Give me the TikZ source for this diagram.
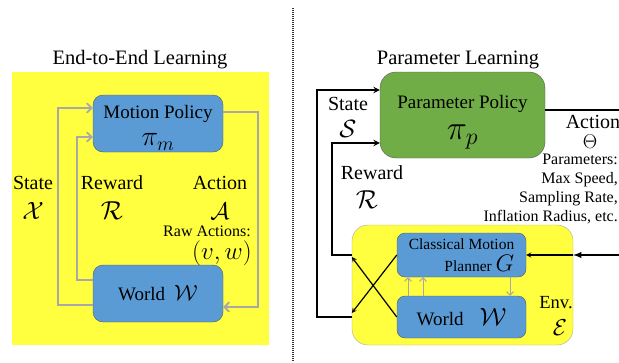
\RequirePackage{fix-cm}
\documentclass[tikz,border=0pt]{standalone}
\usepackage{amsmath}
\usepackage{fontspec}
\setmainfont{Liberation Serif}
\usetikzlibrary{arrows}
\usetikzlibrary{calc}

\definecolor{boxblue}{RGB}{91,155,213}
\definecolor{envyellow}{RGB}{255,255,64}
\definecolor{policygreen}{RGB}{112,173,71}
\definecolor{linkgray}{RGB}{168,168,168}

\newcommand{\sz}[1]{\fontsize{#1}{#1}\selectfont}

\begin{document}
\begin{tikzpicture}[x=1pt,y=-1pt,
  box/.style={draw=black!65, rounded corners=10pt, inner sep=0pt, align=center},
  graylink/.style={->,>=angle 90, draw=linkgray, line width=1.8pt},
  thingray/.style={->,>=angle 90, draw=linkgray, line width=1pt},
  blacklink/.style={->,>=stealth, line width=1.8pt},
  thinblack/.style={->,>=stealth, line width=1.2pt},
  lbl/.style={inner sep=0pt, font=\sz{20}}]
\clip (0,0) rectangle (619,362);

% End-to-End Learning
\fill[envyellow] (12,72) rectangle (269,345);
\node[lbl, font=\sz{20.5}] (eetitle) at (140,60) {End-to-End Learning};
\node[box, fill=boxblue, minimum width=130pt, minimum height=57pt] (mp) at (158,123.5) {};
\node[lbl, font=\sz{19}] (mptext) at (158,114) {Motion Policy};
\node[lbl] (mpsym) at (158,142) {\sz{28}$\pi_m$};
\node[box, fill=boxblue, minimum width=130pt, minimum height=57pt] (wl) at (158,293.5)
  {\sz{19}World\hspace{9pt}\sz{22}$\mathcal{W}$};
\draw[graylink] (wl.west|-0,305) -- (58,305) -- (58,108) -- (mp.west|-0,108);
\draw[graylink] (wl.west|-0,280) -- (77,280) -- (77,137) -- (mp.west|-0,137);
\draw[graylink] (mp.east|-0,112) -- (258,112) -- (258,307) -- (wl.east|-0,307);
\node[lbl] (xstate) at (33,183) {State};
\node[lbl] (xsym) at (33,211) {\sz{25}$\mathcal{X}$};
\node[lbl] (rwd) at (112,183) {Reward};
\node[lbl] (rsym) at (112,211) {\sz{26}$\mathcal{R}$};
\node[lbl] (act) at (220,183) {Action};
\node[lbl] (asym) at (220,211) {\sz{24}$\mathcal{A}$};
\node[lbl, font=\sz{16}] (raw) at (207,231) {Raw Actions:};
\node[lbl] (vw) at (222,253) {\sz{25}$(v,w)$};

\draw[line width=1.3pt, black!80, dash pattern=on 1pt off 1pt] (293,8) -- (293,362);

% Parameter Learning
\node[lbl, font=\sz{20.5}] (pltitle) at (458,60) {Parameter Learning};
\node[box, fill=policygreen, rounded corners=16pt, minimum width=165pt, minimum height=86pt] (pp) at (462.5,115) {};
\node[lbl, font=\sz{19}] (pptext) at (462.5,104) {Parameter Policy};
\node[lbl] (ppsym) at (462.5,137) {\sz{34}$\pi_p$};
\node[box, fill=envyellow, draw=black!35, rounded corners=16pt, minimum width=221pt, minimum height=120pt] (env) at (462.5,285) {};
\node[box, fill=boxblue, rounded corners=8pt, minimum width=129pt, minimum height=44pt, align=right] (gp) at (461.5,255)
  {\sz{15.5}Classical Motion\\[4pt] \sz{15.5}Planner \sz{24}$G$};
\node[box, fill=boxblue, rounded corners=8pt, minimum width=129pt, minimum height=42pt] (ws) at (461.5,317)
  {\sz{19}World\hspace{16pt}\sz{25}$\mathcal{W}$};
\node[lbl] (sstate) at (348,104) {State};
\node[lbl] (ssym) at (348,129) {\sz{25}$\mathcal{S}$};
\node[lbl] (srwd) at (372,173) {Reward};
\node[lbl] (srsym) at (367,200) {\sz{26}$\mathcal{R}$};
\node[lbl] (sact) at (593,122) {Action};
\node[lbl] (theta) at (590,142) {\sz{20}$\Theta$};
\node[inner sep=0pt, anchor=east, align=right, font=\fontsize{16}{19.3}\selectfont] (params) at (618,189)
  {Parameters:\\ Max Speed,\\ Sampling Rate,\\ Inflation Radius, etc.};
\node[lbl, font=\sz{18.5}] (envlbl) at (556,303) {Env.};
\node[lbl] (esym) at (560,328) {\sz{23}$\mathcal{E}$};

\draw[blacklink] (env.west|-0,317) -- (317,317) -- (317,90) -- (pp.west|-0,90);
\draw[blacklink] (env.west|-0,255) -- (332,255) -- (332,143) -- (pp.west|-0,143);
\draw[line width=1.8pt] (pp.east|-0,110) -- (640,110) -- (640,255);
\draw[blacklink, >=latex] (640,255) -- (env.east|-0,255);
\draw[thinblack] (env.east|-0,255) -- (gp.east);
\draw[thinblack] (gp.west) -- (env.west|-0,313);
\draw[thinblack] (ws.west) -- (env.west|-0,257);
\draw[thingray] (ws.north-|408,0) -- (gp.south-|408,0);
\draw[thingray] (ws.north-|423,0) -- (gp.south-|423,0);
\draw[thingray] (gp.south-|510,0) -- (ws.north-|510,0);
\end{tikzpicture}
\end{document}
